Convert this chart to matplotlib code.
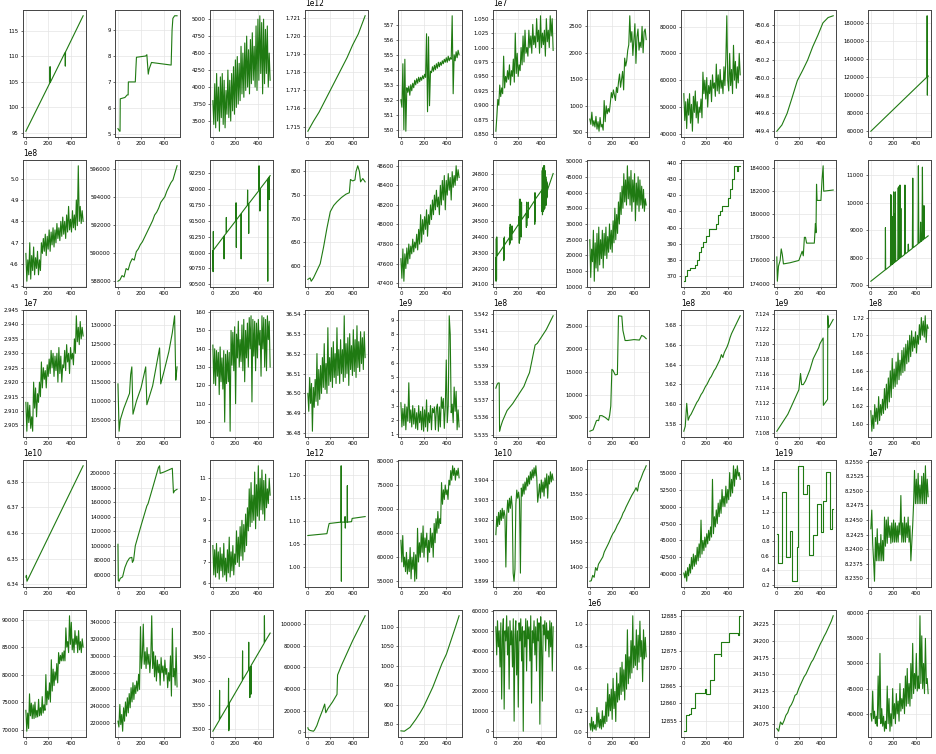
import numpy as np
import matplotlib
matplotlib.use("Agg")
import matplotlib.pyplot as plt

plt.rcParams['axes.formatter.useoffset'] = False

# ---------------- row 1 ----------------
x_r1c1 = [0, 214, 216, 218, 350, 352, 354, 511]
y_r1c1 = [95.3, 104.8, 108.0, 104.9, 110.8, 108.1, 110.9, 118.0]

x_r1c2 = [0, 15, 18, 20, 60, 80, 88, 90, 150, 155, 160, 240, 250, 262, 270, 290, 460, 468, 475, 490, 511]
y_r1c2 = [5.2, 5.1, 5.1, 6.35, 6.4, 6.5, 6.5, 7.0, 7.0, 7.5, 7.95, 8.0, 8.05, 7.3, 7.5, 7.75, 7.65, 9.0, 9.45, 9.55, 9.55]

y_r1c3 = [3800, 3450, 4050, 3400, 4200, 3500, 4000, 3350, 4150, 3550, 4200, 3450, 4100, 3400, 3950, 3600,
          4250, 3550, 4100, 3500, 4200, 3650, 4300, 3600, 4400, 3700, 4450, 3750, 4350, 3800, 4600, 3900,
          4500, 3850, 4650, 3950, 4750, 4000, 4550, 3900, 4700, 4050, 4800, 4100, 4600, 4000, 4900, 3950,
          5000, 4100, 5050, 4200, 4950, 3900, 5000, 4050, 4850, 4200, 4900, 4000, 4500, 4100]

x_r1c4 = [0, 50, 100, 150, 200, 250, 300, 350, 400, 450, 511]
y_r1c4 = np.array([1.71475, 1.7153, 1.7158, 1.7164, 1.7170, 1.7176, 1.7182, 1.7188, 1.7195, 1.7201, 1.7211]) * 1e12

y_r1c5 = [552.0, 551.5, 554.4, 550.0, 554.7, 549.9, 552.8, 552.5, 552.9, 552.3, 553.0, 552.6, 553.1, 552.8, 553.3,
          553.0, 553.4, 553.1, 553.5, 553.2, 553.5, 553.3, 553.6, 553.4, 553.7, 553.5, 556.4, 551.2, 556.2, 551.6,
          553.9, 553.8, 554.2, 553.9, 554.3, 554.0, 554.4, 554.1, 554.5, 554.2, 554.5, 554.3, 554.6, 554.4, 554.7,
          554.5, 554.8, 554.5, 554.9, 554.6, 554.8, 554.7, 557.6, 552.4, 555.0, 554.6, 555.2, 554.8, 555.3, 555.0]

y_r1c6 = np.array([0.855, 0.88, 0.91, 0.90, 0.935, 0.915, 0.93, 0.92, 0.985, 0.93, 0.95, 0.94, 0.96, 0.945, 0.97,
                   0.935, 0.96, 0.95, 0.98, 0.94, 1.025, 0.955, 0.99, 0.95, 0.97, 0.96, 1.0, 0.97, 1.02, 0.975,
                   1.03, 0.99, 1.0, 0.985, 1.03, 1.0, 1.02, 0.99, 1.04, 1.005, 1.02, 1.0, 1.05, 1.01, 1.03,
                   0.99, 1.055, 1.0, 1.025, 1.005, 1.03, 0.985, 1.05, 1.01, 1.03, 1.0, 1.055, 1.02, 1.05, 0.995]) * 1e7

y_r1c7 = [750, 650, 880, 620, 720, 600, 800, 560, 700, 520, 780, 600, 650, 540, 1100, 700, 1000, 850, 950, 880,
          1050, 1250, 1150, 1300, 1200, 1100, 1350, 1250, 1450, 1600, 1350, 1500, 1650, 1300, 1900, 1750, 1850,
          2050, 2150, 2700, 2200, 2400, 1950, 2250, 2550, 1800, 2300, 2450, 2050, 2200, 2100, 2500, 2000, 2400,
          2450, 2250]

y_r1c8 = [55000, 45000, 52000, 42000, 53000, 47000, 55000, 44000, 51000, 41000, 54000, 48000, 56000, 46000,
          52000, 44000, 50000, 48000, 53000, 46000, 63000, 55000, 60000, 53000, 61000, 50000, 58000, 55000,
          60000, 52000, 62000, 57000, 59000, 54000, 66000, 56000, 62000, 55000, 64000, 57000, 60000, 55000,
          65000, 58000, 68000, 84000, 60000, 56000, 70000, 58000, 64000, 55000, 73000, 60000, 67000, 57000,
          65000, 59000, 70000, 62000]

x_r1c9 = [0, 46, 93, 139, 186, 232, 279, 325, 372, 418, 465, 511]
y_r1c9 = [449.40, 449.47, 449.60, 449.78, 449.97, 450.08, 450.20, 450.35, 450.48, 450.62, 450.68, 450.70]

x_r1c10 = [0, 500, 502, 504, 506, 511]
y_r1c10 = [60000, 120000, 188000, 100000, 122000, 121000]

# ---------------- row 2 ----------------
y_r2c1 = np.array([4.65, 4.52, 4.62, 4.55, 4.70, 4.53, 4.64, 4.57, 4.68, 4.55, 4.63, 4.58, 4.66, 4.55, 4.62,
                   4.57, 4.70, 4.65, 4.72, 4.66, 4.74, 4.64, 4.73, 4.67, 4.76, 4.66, 4.75, 4.69, 4.77, 4.68,
                   4.76, 4.70, 4.79, 4.72, 4.77, 4.71, 4.80, 4.73, 4.82, 4.74, 4.80, 4.72, 4.83, 4.75, 4.87,
                   4.76, 4.81, 4.75, 4.85, 4.77, 4.83, 4.76, 4.90, 4.78, 5.06, 4.80, 4.87, 4.79, 4.85, 4.80]) * 1e8

y_r2c2 = [588000, 588100, 588400, 588300, 588900, 588800, 589300, 589600, 589500, 590100, 590300, 590600,
          590800, 591100, 591400, 591700, 592000, 592300, 592700, 592900, 593200, 593600, 593800, 594000,
          594400, 594700, 595000, 595200, 595700, 596200]

x_r2c3 = [0, 2, 4, 6, 98, 100, 102, 118, 120, 122, 205, 207, 209, 211, 250, 252, 254, 308, 310, 312, 318, 320,
          322, 410, 412, 414, 418, 420, 422, 488, 490, 492, 500, 502, 504, 511]
y_r2c3 = [91030, 90700, 91330, 91040, 91255, 90900, 91265, 91300, 91550, 91310, 91500, 91780, 91080, 91515,
          91605, 90900, 91615, 91740, 91980, 91750, 91760, 91300, 91770, 91970, 92360, 91980, 91990, 91650,
          92000, 92150, 90550, 92160, 92180, 91830, 92190, 92205]

x_r2c4 = [0, 20, 30, 50, 80, 110, 140, 170, 200, 230, 260, 300, 340, 370, 380, 400, 420, 430, 445, 460, 470, 490, 511]
y_r2c4 = [572, 575, 568, 575, 590, 605, 640, 680, 715, 728, 736, 745, 752, 755, 783, 780, 782, 800, 812, 800, 778, 785, 778]

y_r2c5 = [47650, 47450, 47750, 47420, 47700, 47550, 47760, 47600, 47800, 47650, 47780, 47700, 47850, 47720,
          47820, 47760, 47900, 47740, 47950, 47800, 48100, 47820, 48050, 47900, 48080, 47950, 48150, 47880,
          48100, 48000, 48200, 48050, 48250, 48100, 48300, 48150, 48350, 48180, 48280, 48100, 48400, 48200,
          48450, 48250, 48500, 48150, 48450, 48300, 48520, 48350, 48480, 48250, 48540, 48380, 48500, 48400,
          48600, 48450, 48560, 48480]

x_r2c6 = [0, 2, 4, 6, 8, 10, 68, 70, 72, 74, 76, 78, 120, 122, 124, 126, 128, 130, 140, 142, 144, 146,
          205, 207, 209, 211, 213, 215, 217, 225, 227, 229, 231, 270, 272, 274, 276, 278, 285, 287, 289, 291,
          345, 347, 349, 351, 353, 410, 412, 414, 416, 418, 420, 422, 424, 426, 428, 430, 432, 434, 436, 438,
          440, 442, 444, 446, 448, 450, 452, 454, 456, 458, 460, 462, 511]
y_r2c6 = [24270, 24120, 24390, 24130, 24400, 24280, 24340, 24250, 24390, 24260, 24400, 24350, 24395, 24350,
          24460, 24360, 24480, 24400, 24415, 24380, 24470, 24420, 24483, 24530, 24360, 24630, 24380, 24640,
          24495, 24505, 24400, 24620, 24510, 24551, 24460, 24620, 24470, 24560, 24566, 24520, 24620, 24570,
          24629, 24480, 24680, 24500, 24640, 24696, 24560, 24820, 24540, 24830, 24580, 24840, 24560, 24850,
          24570, 24830, 24600, 24850, 24580, 24820, 24600, 24800, 24620, 24780, 24600, 24760, 24640, 24750,
          24650, 24740, 24690, 24700, 24801]

y_r2c7 = [25000, 13000, 22000, 18000, 28000, 11800, 24000, 16000, 27000, 15000, 29000, 17000, 25000, 19000,
          28000, 16000, 27000, 20000, 29000, 19000, 26000, 21000, 30000, 22000, 28000, 21000, 31000, 24000,
          35000, 25000, 33000, 27000, 37000, 30000, 40000, 33000, 42000, 35000, 46000, 37000, 44000, 36000,
          48500, 38000, 45000, 36000, 47000, 34000, 44000, 37000, 46000, 31000, 43000, 36000, 45000, 34000,
          44000, 36000, 42000, 35000, 41000, 34000, 38000, 36000]

x_r2c8 = [0, 12, 25, 60, 100, 120, 140, 160, 175, 205, 225, 290, 310, 330, 350, 400, 420, 440, 455, 480, 490, 511]
y_r2c8 = [367, 370, 374, 375, 377, 380, 385, 388, 391, 395, 399, 402, 408, 410, 413, 418, 424, 430, 438, 435, 438, 438]

x_r2c9 = [0, 5, 15, 30, 40, 50, 60, 120, 200, 230, 240, 250, 260, 270, 340, 350, 355, 360, 365, 400, 410, 420, 425, 511]
y_r2c9 = [176300, 174200, 175500, 176000, 177000, 176500, 175700, 175800, 176000, 176800, 176400, 178000,
          178000, 177500, 177500, 179200, 178400, 182600, 181200, 181200, 183000, 184200, 182000, 182100]

x_r2c10 = [0, 128, 130, 132, 175, 178, 181, 184, 187, 190, 193, 200, 203, 206, 210, 214, 218, 222, 240, 244,
           248, 252, 256, 260, 264, 268, 272, 300, 304, 308, 330, 334, 338, 370, 374, 378, 420, 424, 428, 440,
           444, 448, 456, 460, 464, 470, 474, 478, 511]
y_r2c10 = [7150, 7563, 9100, 7570, 7715, 10300, 7735, 10250, 7755, 9500, 7775, 7796, 10400, 7815, 9600, 7840,
           10400, 7867, 7925, 10550, 7950, 10600, 7977, 10650, 8003, 9800, 8028, 8119, 10650, 8145, 8216, 8500,
           8242, 8345, 10900, 8371, 8507, 11350, 8533, 8571, 9300, 8597, 8623, 11300, 8649, 8668, 9900, 8694, 8800]

# ---------------- row 3 ----------------
y_r3c1 = np.array([2.913, 2.903, 2.913, 2.906, 2.912, 2.904, 2.908, 2.903, 2.920, 2.911, 2.918, 2.908, 2.916,
                   2.913, 2.920, 2.915, 2.927, 2.918, 2.925, 2.921, 2.924, 2.918, 2.926, 2.922, 2.928, 2.923,
                   2.931, 2.925, 2.930, 2.922, 2.929, 2.924, 2.930, 2.920, 2.932, 2.923, 2.929, 2.920, 2.926,
                   2.925, 2.931, 2.924, 2.933, 2.927, 2.930, 2.923, 2.932, 2.928, 2.930, 2.926, 2.935, 2.930,
                   2.943, 2.934, 2.939, 2.933, 2.941, 2.935, 2.939, 2.936]) * 1e7

x_r3c2 = [0, 10, 20, 50, 100, 110, 120, 130, 160, 200, 240, 250, 300, 330, 360, 370, 400, 440, 470, 490, 500, 505, 511]
y_r3c2 = [114500, 102000, 105000, 108000, 112000, 117000, 119000, 106500, 110000, 113500, 119000, 109000,
          114000, 119000, 124000, 114500, 118000, 123000, 128000, 132500, 115500, 117000, 119000]

y_r3c3 = [142, 121, 140, 120, 139, 125, 138, 115, 141, 122, 135, 118, 139, 100, 137, 121, 139, 122, 138, 95,
          150, 131, 149, 128, 152, 110, 148, 135, 155, 130, 145, 133, 153, 128, 156, 122, 150, 135, 154, 130,
          157, 140, 158, 111, 156, 136, 155, 128, 154, 135, 156, 142, 150, 125, 158, 140, 157, 130, 156, 128,
          158, 145, 155, 130]

y_r3c4 = [36.500, 36.491, 36.508, 36.495, 36.505, 36.481, 36.503, 36.493, 36.507, 36.496, 36.520, 36.494,
          36.512, 36.497, 36.514, 36.500, 36.518, 36.503, 36.525, 36.502, 36.515, 36.500, 36.533, 36.504,
          36.518, 36.506, 36.523, 36.503, 36.526, 36.508, 36.520, 36.505, 36.533, 36.509, 36.522, 36.505,
          36.527, 36.510, 36.522, 36.506, 36.539, 36.508, 36.525, 36.510, 36.528, 36.504, 36.530, 36.512,
          36.524, 36.509, 36.532, 36.511, 36.527, 36.508, 36.534, 36.513, 36.526, 36.511, 36.531, 36.515,
          36.528, 36.512, 36.531, 36.518]

y_r3c5 = np.array([3.2, 1.5, 2.8, 1.6, 3.1, 1.3, 2.9, 1.9, 4.6, 1.8, 2.7, 1.5, 3.0, 1.7, 2.8, 1.4, 2.5, 1.3,
                   3.0, 1.8, 2.6, 1.3, 2.9, 1.2, 2.7, 1.5, 3.4, 1.2, 2.5, 1.8, 3.0, 1.3, 2.8, 2.5, 2.9, 1.3,
                   2.8, 3.1, 1.2, 2.9, 1.5, 3.6, 2.8, 3.5, 1.4, 2.9, 6.2, 1.8, 3.0, 9.3, 8.0, 2.5, 3.1, 1.8,
                   4.3, 2.6, 4.0, 1.3, 2.7, 1.5]) * 1e9

x_r3c6 = [0, 10, 20, 30, 33, 40, 60, 80, 100, 150, 200, 250, 280, 300, 350, 370, 400, 450, 511]
y_r3c6 = np.array([5.5377, 5.5379, 5.5380, 5.5380, 5.5352, 5.5354, 5.5358, 5.5361, 5.5364, 5.5368, 5.5373,
                   5.5378, 5.5383, 5.5386, 5.5402, 5.5403, 5.5406, 5.5411, 5.5419]) * 1e8

x_r3c7 = [0, 20, 30, 60, 70, 80, 90, 110, 140, 170, 180, 190, 200, 210, 230, 250, 260, 290, 300, 320, 340, 400,
          450, 470, 490, 511]
y_r3c7 = [2000, 2200, 2300, 4300, 4400, 4300, 5400, 5400, 5000, 4400, 5500, 7500, 15500, 15300, 14300, 14400,
          27200, 27100, 24000, 21800, 21800, 22000, 21900, 22900, 22700, 22200]

y_r3c8 = np.array([3.573, 3.578, 3.601, 3.584, 3.588, 3.590, 3.593, 3.596, 3.599, 3.602, 3.604, 3.607, 3.610,
                   3.612, 3.615, 3.618, 3.620, 3.623, 3.626, 3.628, 3.631, 3.634, 3.636, 3.639, 3.642, 3.645,
                   3.650, 3.647, 3.652, 3.655, 3.658, 3.662, 3.667, 3.671, 3.674, 3.677, 3.680, 3.683, 3.686,
                   3.689]) * 1e8

x_r3c9 = [0, 100, 200, 215, 225, 240, 260, 300, 330, 380, 390, 420, 422, 460, 462, 470, 511]
y_r3c9 = np.array([7.1082, 7.1105, 7.1138, 7.1160, 7.1145, 7.1145, 7.1150, 7.1165, 7.1180, 7.1195, 7.1200,
                   7.1208, 7.1117, 7.1125, 7.1238, 7.1222, 7.1233]) * 1e9

y_r3c10 = np.array([1.615, 1.592, 1.610, 1.595, 1.622, 1.603, 1.618, 1.600, 1.631, 1.604, 1.622, 1.610, 1.628,
                    1.612, 1.640, 1.616, 1.645, 1.618, 1.652, 1.625, 1.660, 1.630, 1.674, 1.640, 1.662, 1.642,
                    1.670, 1.645, 1.680, 1.650, 1.672, 1.655, 1.683, 1.658, 1.686, 1.660, 1.690, 1.668, 1.694,
                    1.670, 1.700, 1.676, 1.705, 1.682, 1.698, 1.686, 1.704, 1.680, 1.700, 1.690, 1.712, 1.695,
                    1.720, 1.700, 1.716, 1.698, 1.722, 1.692, 1.712, 1.708]) * 1e8

# ---------------- row 4 ----------------
x_r4c1 = [0, 5, 10, 511]
y_r4c1 = np.array([6.3428, 6.3435, 6.3412, 6.3862]) * 1e10

x_r4c2 = [0, 3, 10, 20, 40, 60, 80, 100, 120, 125, 135, 150, 200, 250, 260, 300, 350, 360, 365, 400, 470, 480, 490, 511]
y_r4c2 = [102000, 52000, 51000, 55000, 57000, 70000, 78000, 83000, 84000, 77000, 80000, 100000, 128000,
          155000, 158000, 180000, 208000, 210500, 200000, 202000, 207000, 173000, 176000, 178000]

y_r4c3 = [7.8, 6.4, 7.6, 6.3, 7.9, 6.5, 7.5, 6.2, 7.7, 6.6, 7.4, 6.3, 7.9, 6.4, 7.2, 6.1, 7.6, 6.5, 8.2, 6.3,
          7.5, 6.6, 7.8, 6.4, 7.4, 6.9, 8.5, 7.0, 8.2, 6.8, 8.7, 7.3, 9.0, 7.1, 8.8, 7.5, 9.3, 7.8, 9.6, 8.5,
          10.5, 8.7, 10.8, 8.9, 10.2, 9.0, 11.3, 8.6, 10.7, 9.2, 11.6, 9.0, 11.0, 9.5, 11.4, 9.3, 10.9, 9.0,
          11.2, 9.6, 10.5, 9.8, 11.0, 10.2]

x_r4c4 = [0, 170, 185, 190, 295, 297, 299, 301, 330, 332, 334, 336, 350, 352, 354, 390, 395, 511]
y_r4c4 = np.array([1.069, 1.073, 1.090, 1.095, 1.098, 1.22, 0.97, 1.098, 1.098, 1.11, 1.085, 1.098, 1.098,
                   1.177, 1.098, 1.099, 1.106, 1.110]) * 1e12

y_r4c5 = [63500, 59000, 64500, 58000, 60000, 57000, 61000, 56500, 59500, 57000, 62000, 55500, 60000, 57500,
          61000, 55000, 60500, 55500, 66000, 59000, 63000, 60000, 65000, 61000, 66500, 60000, 64000, 62000,
          65000, 59000, 63500, 61000, 66000, 62000, 65000, 60000, 67000, 63000, 68000, 65000, 69500, 66000,
          68000, 67000, 75500, 71000, 74000, 72000, 75000, 73000, 74000, 72000, 76000, 75000, 78000, 76000,
          79000, 77000, 78500, 76000, 78000, 77000, 78500, 76500]

y_r4c6 = np.array([3.9013, 3.9022, 3.9017, 3.9024, 3.9018, 3.9025, 3.9020, 3.9026, 3.9021, 3.9025, 3.9022,
                   3.8997, 3.9023, 3.9030, 3.9024, 3.9031, 3.9026, 3.9032, 3.9027, 3.8994, 3.8990, 3.8996,
                   3.9028, 3.9035, 3.9031, 3.9034, 3.9030, 3.8994, 3.9036, 3.9032, 3.9038, 3.9033, 3.9039,
                   3.9035, 3.9041, 3.9037, 3.9042, 3.9038, 3.9044, 3.9040, 3.9045, 3.9041, 3.9046, 3.9042,
                   3.9047, 3.9041, 3.9029, 3.9033, 3.9038, 3.9031, 3.9040, 3.9034, 3.9039, 3.9032, 3.9041,
                   3.9036, 3.9043, 3.9031, 3.9042, 3.9038, 3.9044, 3.9039, 3.9043, 3.9040]) * 1e10

y_r4c7 = [1370, 1371, 1382, 1378, 1398, 1392, 1405, 1410, 1415, 1420, 1430, 1436, 1442, 1448, 1455, 1462,
          1468, 1472, 1478, 1485, 1490, 1496, 1502, 1510, 1515, 1522, 1528, 1534, 1540, 1546, 1551, 1556,
          1562, 1555, 1572, 1578, 1586, 1594, 1600, 1607]

y_r4c8 = [40200, 39500, 40500, 39000, 41000, 39800, 41500, 40200, 42500, 40800, 43000, 41200, 42800, 41500,
          44000, 42000, 44500, 42500, 48000, 43000, 45000, 43500, 45500, 44000, 46000, 44500, 46500, 45000,
          47000, 45500, 54000, 46000, 48500, 47000, 49500, 47500, 50500, 48500, 51000, 49000, 52500, 50000,
          51500, 50000, 53000, 50500, 52500, 51000, 55000, 51500, 54000, 52000, 56000, 53000, 55500, 54000,
          56000, 54500, 55000, 54000]

x_r4c9 = [0, 10, 48, 85, 115, 140, 180, 195, 240, 270, 290, 330, 360, 400, 420, 450, 485, 500, 511]
y_r4c9 = np.array([0.9, 0.5, 1.48, 0.58, 0.94, 0.25, 0.72, 1.84, 1.45, 1.57, 0.61, 0.89, 1.32, 0.93, 1.36,
                   1.75, 0.97, 1.24, 1.24]) * 1e19

y_r4c10 = np.array([8.2435, 8.2467, 8.2410, 8.2380, 8.2345, 8.2420, 8.2380, 8.2435, 8.2380, 8.2410, 8.2380,
                    8.2425, 8.2380, 8.2415, 8.2380, 8.2455, 8.2405, 8.2450, 8.2410, 8.2455, 8.2420, 8.2440,
                    8.2410, 8.2445, 8.2412, 8.2450, 8.2412, 8.2445, 8.2412, 8.2440, 8.2412, 8.2445, 8.2425,
                    8.2492, 8.2412, 8.2445, 8.2412, 8.2455, 8.2412, 8.2445, 8.2420, 8.2455, 8.2412, 8.2440,
                    8.2380, 8.2410, 8.2440, 8.2478, 8.2535, 8.2478, 8.2520, 8.2478, 8.2530, 8.2478, 8.2510,
                    8.2478, 8.2525, 8.2478, 8.2530, 8.2478, 8.2543, 8.2478, 8.2520, 8.2490]) * 1e7

# ---------------- row 5 ----------------
y_r5c1 = [73500, 69700, 73000, 70200, 76500, 72500, 74800, 72000, 74500, 72000, 75000, 72200, 73500, 72300,
          75500, 72500, 74000, 72600, 76000, 73000, 74500, 73500, 80000, 74500, 77000, 75500, 78500, 75000,
          82700, 77000, 81000, 78000, 80500, 79000, 82000, 78500, 84000, 82000, 83500, 82500, 84000, 82500,
          84300, 82500, 88500, 85000, 86000, 84000, 90700, 85500, 89500, 84500, 86500, 84000, 88000, 85500,
          87000, 84000, 88000, 84500, 86000, 84000, 86500, 85000]

y_r5c2 = [222000, 215000, 242000, 218000, 230000, 210000, 238000, 222000, 245000, 228000, 250000, 232000,
          255000, 238000, 262000, 245000, 268000, 248000, 265000, 255000, 270000, 258000, 278000, 260000,
          335000, 285000, 300000, 338000, 290000, 305000, 285000, 310000, 290000, 302000, 280000, 298000,
          348000, 285000, 305000, 275000, 300000, 270000, 295000, 280000, 290000, 265000, 298000, 280000,
          288000, 270000, 295000, 278000, 285000, 262000, 280000, 270000, 300000, 252000, 333000, 275000,
          285000, 265000, 310000, 263000]

x_r5c3 = [0, 58, 60, 62, 138, 140, 142, 144, 146, 148, 263, 265, 267, 318, 320, 322, 328, 330, 332, 338, 340,
          342, 458, 460, 462, 511]
y_r5c3 = [3295, 3318, 3380, 3320, 3350, 3405, 3296, 3353, 3300, 3354, 3400, 3462, 3402, 3422, 3480, 3424,
          3426, 3365, 3428, 3430, 3372, 3432, 3478, 3535, 3480, 3499]

x_r5c4 = [0, 5, 20, 50, 60, 80, 100, 130, 150, 160, 180, 220, 260, 265, 300, 400, 511]
y_r5c4 = [4000, 2500, 1500, 800, 2000, 6000, 12000, 20000, 26000, 18000, 22000, 28000, 35000, 53000, 62000,
          85000, 108000]

x_r5c5 = [0, 30, 80, 130, 170, 200, 240, 280, 320, 360, 400, 440, 480, 511]
y_r5c5 = [833, 832, 842, 862, 880, 895, 920, 945, 975, 1005, 1030, 1065, 1100, 1128]

y_r5c6 = [52000, 38000, 55000, 42000, 50000, 32000, 54000, 16000, 48000, 56000, 11000, 50000, 45000, 57500,
          38000, 52000, 21000, 55000, 43000, 50000, 32000, 56000, 5000, 48000, 55000, 28000, 50000, 12000,
          54000, 45000, 56000, 35000, 52000, 0, 50000, 42000, 56000, 30000, 55000, 46000, 52000, 35000, 57500,
          14000, 50000, 44000, 55000, 38000, 52000, 30000, 56000, 45000, 54000, 3500, 57000, 42000, 15000,
          53000, 48000, 55000, 40000, 54000, 46000, 50000, 37000, 55000, 42000, 54000, 30000, 52000]

y_r5c7 = np.array([0.08, 0.02, 0.14, 0.01, 0.10, 0.03, 0.07, 0.02, 0.23, 0.05, 0.18, 0.04, 0.12, 0.03, 0.20,
                   0.05, 0.15, 0.08, 0.28, 0.10, 0.45, 0.15, 0.35, 0.20, 0.40, 0.12, 0.50, 0.22, 0.38, 0.10,
                   0.55, 0.28, 0.45, 0.30, 0.60, 0.35, 0.65, 0.38, 0.58, 0.30, 0.72, 0.40, 0.95, 0.45, 0.70,
                   0.50, 0.85, 0.55, 1.08, 0.60, 0.80, 0.62, 0.95, 0.58, 0.90, 0.65, 1.03, 0.70, 0.85, 0.47,
                   0.95, 0.68, 0.88, 0.70]) * 1e6

x_r5c8 = [0, 17, 45, 65, 100, 195, 205, 240, 270, 335, 340, 410, 490, 500, 511]
y_r5c8 = [12852, 12856.5, 12857, 12858.5, 12863, 12864, 12862.5, 12866.5, 12874, 12873.5, 12877.5, 12880,
          12879.5, 12885, 12885]

y_r5c9 = [24068, 24064, 24078, 24074, 24080, 24088, 24092, 24100, 24104, 24110, 24118, 24120, 24128, 24134,
          24140, 24146, 24150, 24156, 24162, 24168, 24172, 24178, 24184, 24190, 24196, 24201, 24207, 24212,
          24218, 24224, 24230, 24238]

y_r5c10 = [40000, 38500, 44500, 39000, 40500, 38000, 39500, 37500, 47500, 39000, 52000, 38000, 41000, 37500,
           39500, 36500, 38500, 37000, 45500, 38000, 43000, 36500, 40000, 37500, 45000, 39000, 42000, 38000,
           44000, 40000, 42500, 38500, 46000, 40500, 43000, 41000, 45000, 40000, 47500, 41500, 49000, 42000,
           46000, 41500, 50000, 43000, 54000, 44000, 48000, 45000, 52000, 44500, 47500, 45000, 59500, 46000,
           55500, 45000, 50000, 44000, 55000, 46000, 47000, 44000]

panels = [
    [(x_r1c1, y_r1c1), (x_r1c2, y_r1c2), (None, y_r1c3), (x_r1c4, y_r1c4), (None, y_r1c5),
     (None, y_r1c6), (None, y_r1c7), (None, y_r1c8), (x_r1c9, y_r1c9), (x_r1c10, y_r1c10)],
    [(None, y_r2c1), (None, y_r2c2), (x_r2c3, y_r2c3), (x_r2c4, y_r2c4), (None, y_r2c5),
     (x_r2c6, y_r2c6), (None, y_r2c7), (x_r2c8, y_r2c8), (x_r2c9, y_r2c9), (x_r2c10, y_r2c10)],
    [(None, y_r3c1), (x_r3c2, y_r3c2), (None, y_r3c3), (None, y_r3c4), (None, y_r3c5),
     (x_r3c6, y_r3c6), (x_r3c7, y_r3c7), (None, y_r3c8), (x_r3c9, y_r3c9), (None, y_r3c10)],
    [(x_r4c1, y_r4c1), (x_r4c2, y_r4c2), (None, y_r4c3), (x_r4c4, y_r4c4), (None, y_r4c5),
     (None, y_r4c6), (None, y_r4c7), (None, y_r4c8), (x_r4c9, y_r4c9), (None, y_r4c10)],
    [(None, y_r5c1), (None, y_r5c2), (x_r5c3, y_r5c3), (x_r5c4, y_r5c4), (x_r5c5, y_r5c5),
     (None, y_r5c6), (None, y_r5c7), (x_r5c8, y_r5c8), (None, y_r5c9), (None, y_r5c10)],
]
step_panels = {(1, 7), (3, 8), (4, 7)}

W, H = 936, 754
col_left = [23, 115, 210, 305, 398, 493, 587, 681, 774, 868]
col_right = [86, 180, 273, 368, 462, 556, 649, 743, 836, 931]
row_top = [10, 160, 310, 460, 610]
ax_h = 127

fig = plt.figure(figsize=(W / 100, H / 100), dpi=100)

for r in range(5):
    for c in range(10):
        xs, ys = panels[r][c]
        ys = np.asarray(ys, dtype=float)
        if xs is None:
            xs = np.linspace(0, 511, len(ys))
        ax = fig.add_axes([col_left[c] / W, (H - row_top[r] - ax_h) / H,
                           (col_right[c] - col_left[c]) / W, ax_h / H])
        ds = 'steps-post' if (r, c) in step_panels else 'default'
        ax.plot(xs, ys, color='#1f7a12', lw=0.8, drawstyle=ds)
        ax.set_xticks([0, 200, 400])
        ax.grid(True, color='#e4e4e4', lw=0.5)
        ax.tick_params(labelsize=3.9, length=1.5, width=0.4, pad=1.5)
        ax.yaxis.get_offset_text().set_fontsize(5.5)
        for s in ax.spines.values():
            s.set_linewidth(0.7)
            s.set_color('#444444')

fig.savefig('out.png', dpi=100)
